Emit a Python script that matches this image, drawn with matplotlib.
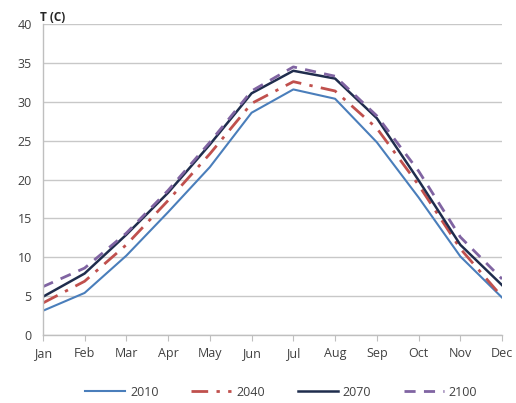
import matplotlib
matplotlib.use("Agg")
import matplotlib.pyplot as plt

months = ["Jan", "Feb", "Mar", "Apr", "May", "Jun", "Jul", "Aug", "Sep", "Oct", "Nov", "Dec"]
t2010 = [3.1, 5.4, 10.2, 15.8, 21.6, 28.6, 31.6, 30.4, 24.8, 17.7, 10.1, 4.8]
t2040 = [4.1, 6.9, 11.6, 17.3, 23.3, 29.8, 32.6, 31.4, 26.6, 19.3, 11.1, 4.9]
t2070 = [4.9, 7.9, 12.9, 18.3, 24.5, 31.1, 34.0, 33.0, 27.9, 19.9, 11.6, 6.4]
t2100 = [6.2, 8.6, 13.1, 18.6, 24.8, 31.4, 34.5, 33.3, 28.2, 21.1, 12.6, 7.2]
yticks = [0, 5, 10, 15, 20, 25, 30, 35, 40]

plt.rcParams['font.family'] = ['Open Sans', 'DejaVu Sans']
fig = plt.figure(figsize=(5.16, 4.03), dpi=100)
ax = fig.add_axes([0.083, 0.169, 0.89, 0.771])
x = list(range(len(months)))
ax.plot(x, t2010, color="#4A7EBB", lw=1.5, label="2010")
ax.plot(x, t2040, color="#C0504D", lw=2.0, dashes=(6, 3, 1.2, 3), label="2040")
ax.plot(x, t2070, color="#1F2D4D", lw=1.8, label="2070")
ax.plot(x, t2100, color="#8064A2", lw=2.0, dashes=(4, 3), label="2100")

ax.set_ylim(0, 40)
ax.set_xlim(0, 11)
ax.set_yticks(yticks)
ax.set_xticks(x)
ax.set_xticklabels(months)
ax.yaxis.grid(True, color="#C8C8C8", lw=1.0)
ax.set_axisbelow(True)
for s in ["top", "right"]:
    ax.spines[s].set_visible(False)
for s in ["left", "bottom"]:
    ax.spines[s].set_color("#BFBFBF")
    ax.spines[s].set_linewidth(1.0)
ax.tick_params(axis="x", colors="#BFBFBF", length=4, labelcolor="#404040", labelsize=9, pad=5)
ax.tick_params(axis="y", length=0, labelcolor="#404040", labelsize=9, pad=8)
ax.text(-0.006, 1.0, "T (C)", transform=ax.transAxes, fontsize=8.5, fontweight="bold",
        color="#262626", ha="left", va="bottom")
fig.legend(loc="center", bbox_to_anchor=(0.545, 0.027), ncol=4, frameon=False,
           fontsize=9, handlelength=3.2, handletextpad=0.4, columnspacing=2.6,
           labelcolor="#404040")
fig.savefig("out.png", dpi=100)
